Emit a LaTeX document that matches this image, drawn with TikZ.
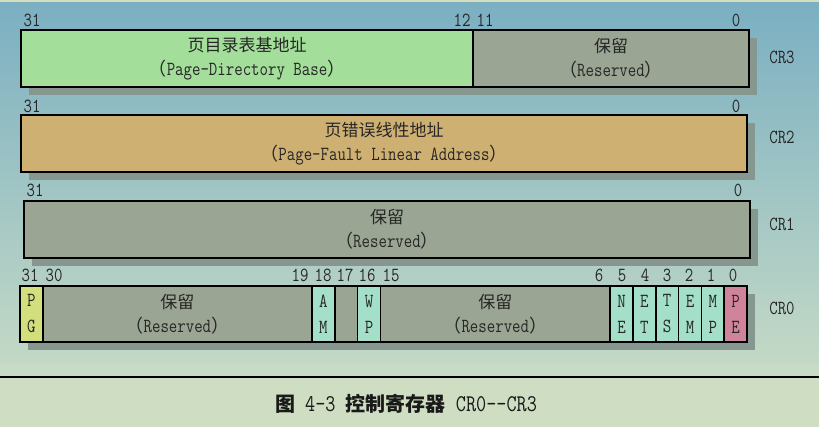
\documentclass[tikz,border=0pt]{standalone}
\usepackage{fontspec}
\setmainfont{Liberation Serif}
\setmonofont{Latin Modern Mono}[FakeStretch=0.82]
\newfontfamily\cjk{Noto Sans CJK SC}
\usetikzlibrary{shadows}
\definecolor{bgtop}{HTML}{7AAFC2}
\definecolor{bgbot}{HTML}{C4D9C6}
\definecolor{bgband}{HTML}{C8DBC6}
\definecolor{bgfoot}{HTML}{CFDEC3}
\definecolor{bgedge}{HTML}{D6DEC0}
\definecolor{regshadow}{HTML}{86978F}
\definecolor{pdbase}{HTML}{A3DE9A}
\definecolor{rsvd}{HTML}{9AA593}
\definecolor{faultaddr}{HTML}{CFB073}
\definecolor{pgbit}{HTML}{D3DF7C}
\definecolor{flagbit}{HTML}{A3DFC9}
\definecolor{pebit}{HTML}{D0849B}
\newcommand\regtext[2]{{\cjk\fontsize{17}{24}\selectfont #1}\\{\cjk\fontsize{18}{24}\selectfont （}#2{\cjk\fontsize{18}{24}\selectfont ）}}
\tikzset{
  reg/.style={ % whole register, carries the shadow
    draw, line width=1.5pt, inner sep=0pt, outer sep=0pt,
    anchor=north west, minimum height=57pt,
    drop shadow={shadow xshift=8pt, shadow yshift=-8pt,
      fill=regshadow, opacity=1}
  },
  field/.style={ % one field of a register
    draw, line width=1.5pt, inner sep=0pt, outer sep=0pt,
    anchor=north west, minimum height=57pt, align=center,
    text=black!85, font=\fontsize{20}{24}\selectfont\ttfamily
  },
  bit/.style={ % one-bit flag
    field, minimum width=22.8pt, fill=flagbit,
    font=\fontsize{20}{26}\selectfont\ttfamily
  },
  bitno/.style={inner sep=0pt, text=black!85,
    font=\fontsize{20}{20}\selectfont\ttfamily},
  regname/.style={inner sep=0pt, text=black!85,
    font=\fontsize{20}{20}\selectfont\ttfamily}
}
\begin{document}
\begin{tikzpicture}[x=1pt, y=-1pt]
  \useasboundingbox (0,0) rectangle (819,427);
  % background
  \shade[top color=bgtop, bottom color=bgbot] (0,0) rectangle (819,365);
  \fill[bgband] (0,365) rectangle (819,377);
  \fill[bgfoot] (0,377) rectangle (819,427);
  \fill[bgedge] (0,0) rectangle (819,2);
  \draw[line width=2pt] (0,377.5) -- (819,377.5);

  % CR3
  \node[reg, minimum width=728pt] (cr3) at (21,30) {};
  \node[field, fill=pdbase, minimum width=452pt] (pdb) at (cr3.north west)
    {\regtext{页目录表基地址}{Page-Directory Base}};
  \node[field, fill=rsvd, minimum width=276pt] (cr3rsvd) at (pdb.north east)
    {\regtext{保留}{Reserved}};
  \node[regname] (cr3name) at (782,57) {CR3};

  % CR2
  \node[reg, minimum width=726pt] (cr2) at (21,115) {};
  \node[field, fill=faultaddr, minimum width=726pt] (pfla) at (cr2.north west)
    {\regtext{页错误线性地址}{Page-Fault Linear Address}};
  \node[regname] (cr2name) at (782,137) {CR2};

  % CR1
  \node[reg, minimum width=726pt] (cr1) at (24,201) {};
  \node[field, fill=rsvd, minimum width=726pt] (cr1rsvd) at (cr1.north west)
    {\regtext{保留}{Reserved}};
  \node[regname] (cr1name) at (782,224.5) {CR1};

  % CR0
  \node[reg, minimum width=727pt, minimum height=56pt] (cr0) at (20,286) {};
  \node[bit, fill=pgbit, minimum height=56pt] (pg) at (cr0.north west) {P\\G};
  \node[field, fill=rsvd, minimum width=269.2pt, minimum height=56pt] (rsvdhi) at (pg.north east)
    {\regtext{保留}{Reserved}};
  \node[bit, minimum height=56pt] (am) at (rsvdhi.north east) {A\\M};
  \node[bit, fill=rsvd, minimum height=56pt] (b17) at (am.north east) {};
  \node[bit, minimum height=56pt] (wp) at (b17.north east) {W\\P};
  \node[field, fill=rsvd, minimum width=229.8pt, minimum height=56pt] (rsvdlo) at (wp.north east)
    {\regtext{保留}{Reserved}};
  \node[bit, minimum height=56pt] (ne) at (rsvdlo.north east) {N\\E};
  \node[bit, minimum height=56pt] (et) at (ne.north east) {E\\T};
  \node[bit, minimum height=56pt] (ts) at (et.north east) {T\\S};
  \node[bit, minimum height=56pt] (em) at (ts.north east) {E\\M};
  \node[bit, minimum height=56pt] (mp) at (em.north east) {M\\P};
  \node[bit, fill=pebit, minimum height=56pt] (pe) at (mp.north east) {P\\E};
  \node[regname] (cr0name) at (782,308) {CR0};

  % bit numbers
  \foreach \x/\n in {32/31, 462/12, 485/11, 736/0}
    \node[bitno] (cr3bit\n) at (\x,20.5) {\n};
  \foreach \x/\n in {32/31, 736/0}
    \node[bitno] (cr2bit\n) at (\x,106) {\n};
  \foreach \x/\n in {35/31, 738/0}
    \node[bitno] (cr1bit\n) at (\x,190) {\n};
  \foreach \x/\n in {30/31, 54/30, 300/19, 323/18, 345/17, 367/16, 391/15,
                     599/6, 622/5, 645/4, 667/3, 689/2, 711/1, 733/0}
    \node[bitno] (cr0bit\n) at (\x,275.5) {\n};

  % caption
  \node[text=black!90, font=\fontsize{24}{24}\selectfont\ttfamily] (caption) at (406,404)
    {{\cjk\bfseries\fontsize{20}{20}\selectfont 图} 4-3 {\cjk\bfseries\fontsize{20}{20}\selectfont 控制寄存器} CR0--CR3};
\end{tikzpicture}
\end{document}
